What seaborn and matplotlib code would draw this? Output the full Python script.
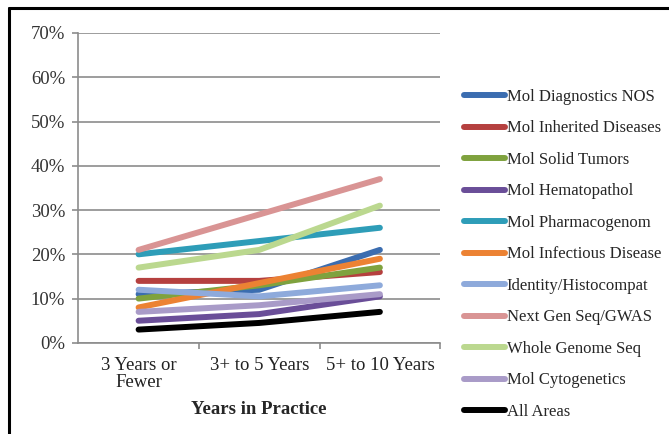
import matplotlib
matplotlib.use("Agg")
import matplotlib.pyplot as plt
from matplotlib.ticker import FixedLocator, PercentFormatter
import seaborn as sns
import pandas as pd

categories = ["3 Years or\nFewer", "3+ to 5 Years", "5+ to 10 Years"]

mol_diagnostics_nos = [11, 12, 21]
mol_inherited_diseases = [14, 14, 16]
mol_solid_tumors = [10, 13, 17]
mol_hematopathol = [5, 6.5, 10.5]
mol_pharmacogenom = [20, 23, 26]
mol_infectious_disease = [8, 13.5, 19]
identity_histocompat = [12, 10.5, 13]
next_gen_seq_gwas = [21, 29, 37]
whole_genome_seq = [17, 21, 31]
mol_cytogenetics = [7, 8.5, 11]
all_areas = [3, 4.5, 7]

series = {
    "Mol Diagnostics NOS": mol_diagnostics_nos,
    "Mol Inherited Diseases": mol_inherited_diseases,
    "Mol Solid Tumors": mol_solid_tumors,
    "Mol Hematopathol": mol_hematopathol,
    "Mol Pharmacogenom": mol_pharmacogenom,
    "Mol Infectious Disease": mol_infectious_disease,
    "Identity/Histocompat": identity_histocompat,
    "Next Gen Seq/GWAS": next_gen_seq_gwas,
    "Whole Genome Seq": whole_genome_seq,
    "Mol Cytogenetics": mol_cytogenetics,
    "All Areas": all_areas,
}

colors = ["#3b6db0", "#b5403f", "#7fa23e", "#6a4e98", "#2e9db8", "#ec8233",
          "#8eaadb", "#d99494", "#bbd88f", "#a99bc8", "#000000"]

rows = []
for name, vals in series.items():
    for i, v in enumerate(vals):
        rows.append({"area": name, "x": i, "pct": v})
df = pd.DataFrame(rows)

sns.set_theme(style="white")
plt.rcParams["font.family"] = ["Liberation Serif", "DejaVu Serif"]

fig = plt.figure(figsize=(6.69, 4.34), dpi=100)
ax = fig.add_axes([0.117, 0.21, 0.541, 0.714])

sns.lineplot(data=df, x="x", y="pct", hue="area", hue_order=list(series.keys()),
             palette=colors, linewidth=4.3, solid_capstyle="round", ax=ax,
             legend=False, zorder=3)

ax.set_xlim(-0.5, 2.5)
ax.set_ylim(0, 70)
ax.yaxis.set_major_locator(FixedLocator(range(0, 71, 10)))
ax.yaxis.set_major_formatter(PercentFormatter(decimals=0))
ax.grid(axis="y", color="#8c8c8c", linewidth=1.2, zorder=0)
ax.set_axisbelow(True)

ax.set_xticks([0, 1, 2])
ax.set_xticklabels(categories, linespacing=1.05)
ax.set_xticks([0.5, 1.5, 2.5], minor=True)
ax.tick_params(axis="x", which="major", length=0, pad=10, labelsize=13.5, labelcolor="#222222")
ax.tick_params(axis="x", which="minor", length=4, width=1.2, color="#8c8c8c", bottom=True)
ax.tick_params(axis="y", which="major", length=4.5, width=1.2, color="#8c8c8c", left=True,
               labelsize=13.5, pad=5, labelcolor="#333333")

for side in ["top", "right"]:
    ax.spines[side].set_visible(False)
for side in ["left", "bottom"]:
    ax.spines[side].set_color("#8c8c8c")
    ax.spines[side].set_linewidth(1.2)

ax.set_xlabel("Years in Practice", fontsize=13.5, fontweight="bold", labelpad=7)
ax.set_ylabel("")

handles = [plt.Line2D([], [], color=c, linewidth=4.3, solid_capstyle="round") for c in colors]
fig.legend(handles, list(series.keys()), loc="upper left", bbox_to_anchor=(0.6935, 0.795),
           frameon=False, fontsize=12.0, handlelength=2.45, handletextpad=0.12,
           labelspacing=0.93, borderaxespad=0, borderpad=0)

# frame edges along the top and left of the figure
fig.add_artist(plt.Line2D([0.0135, 1.0], [0.981, 0.981], color="black", linewidth=2.2,
                          transform=fig.transFigure))
fig.add_artist(plt.Line2D([0.0135, 0.0135], [0.0, 0.981], color="black", linewidth=2.2,
                          transform=fig.transFigure))

fig.savefig("out.png", dpi=100)
